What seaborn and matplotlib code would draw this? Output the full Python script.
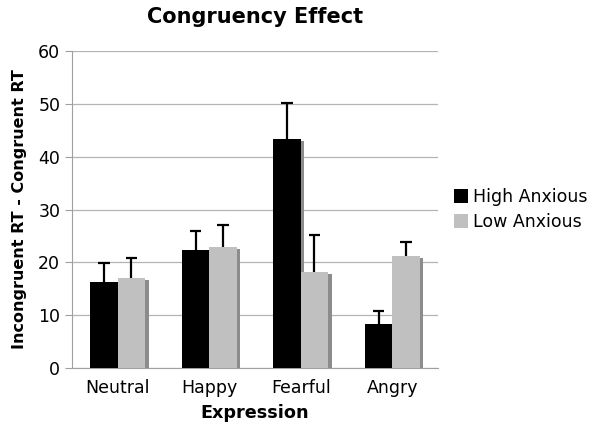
import numpy as np
import pandas as pd
import matplotlib
matplotlib.use('Agg')
import matplotlib.pyplot as plt
import matplotlib.patheffects as pe
import seaborn as sns

expressions = ['Neutral', 'Happy', 'Fearful', 'Angry']
groups = ['High Anxious', 'Low Anxious']
high_anxious = [16.3, 22.3, 43.4, 8.3]
low_anxious = [17.0, 23.0, 18.1, 21.2]
high_err = [3.5, 3.7, 6.8, 2.4]
low_err = [3.8, 4.1, 7.1, 2.6]

df = pd.DataFrame({
    'Expression': expressions * 2,
    'Group': [groups[0]] * 4 + [groups[1]] * 4,
    'RT': high_anxious + low_anxious,
    'err': high_err + low_err,
})

sns.set_style('white')
plt.rcParams['font.family'] = ['DejaVu Sans']
plt.rcParams['text.color'] = 'black'
plt.rcParams['axes.labelcolor'] = 'black'
plt.rcParams['xtick.labelcolor'] = 'black'
plt.rcParams['ytick.labelcolor'] = 'black'

fig = plt.figure(figsize=(6, 4.4), dpi=100)
ax = fig.add_axes([0.12, 0.1636, 0.61, 0.7204])

sns.barplot(data=df, x='Expression', y='RT', hue='Group', order=expressions,
            hue_order=groups, palette=['black', '#c0c0c0'], width=0.6,
            errorbar=None, saturation=1, linewidth=0, ax=ax, zorder=3)

shadow = [pe.SimplePatchShadow(offset=(2.5, -1.5), shadow_rgbFace='#8c8c8c', alpha=1),
          pe.Normal()]
bars = [p for p in ax.patches if p.get_height() > 0]
for p in bars:
    p.set_path_effects(shadow)

# one-sided error bars (upward only)
for p, e in zip(bars, high_err + low_err):
    xc = p.get_x() + p.get_width() / 2
    top = p.get_height()
    ax.vlines(xc, top, top + e, color='black', lw=1.6, zorder=5)
    ax.hlines(top + e, xc - 0.065, xc + 0.065, color='black', lw=1.6, zorder=5)

ax.set_ylim(0, 60)
ax.set_xlim(-0.5, 3.5)
ax.set_yticks(np.arange(0, 61, 10))
ax.yaxis.grid(True, color='#b4b4b4', lw=0.9)
ax.set_axisbelow(True)
for s in ['top', 'right']:
    ax.spines[s].set_visible(False)
for s in ['left', 'bottom']:
    ax.spines[s].set_color('#a0a0a0')
ax.set_xticks(np.arange(4))
ax.set_xticks(np.arange(-0.5, 4, 1), minor=True)
ax.tick_params(axis='x', which='major', length=0, labelsize=12.5, pad=8)
ax.tick_params(axis='x', which='minor', length=5, color='#a0a0a0', direction='out')
ax.tick_params(axis='y', length=5, color='#a0a0a0', direction='out', labelsize=12.5, left=True)

ax.set_title('Congruency Effect', fontsize=15, fontweight='bold', pad=20)
ax.set_xlabel('Expression', fontsize=12.7, fontweight='bold', labelpad=5)
ax.set_ylabel('Incongruent RT - Congruent RT', fontsize=11.5, fontweight='bold', labelpad=8)

ax.legend(loc='center left', bbox_to_anchor=(1.0, 0.5), frameon=False, fontsize=12.5,
          handlelength=0.8, handleheight=0.8, handletextpad=0.3, labelspacing=0.4)

fig.savefig('out.png', dpi=100)
